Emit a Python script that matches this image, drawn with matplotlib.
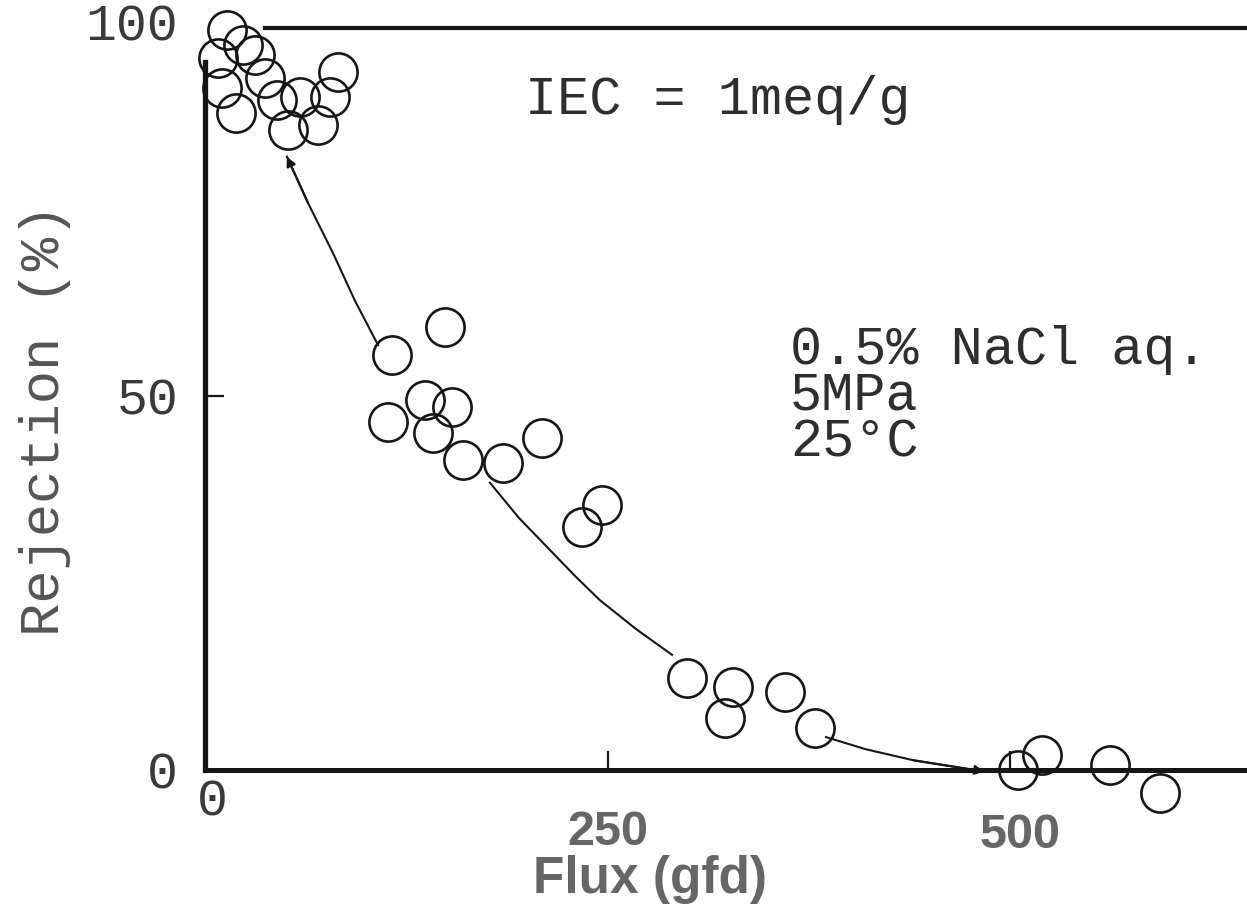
import matplotlib
matplotlib.use("Agg")
import matplotlib.pyplot as plt
import matplotlib.transforms as mtransforms

# ---- data ----
flux = [13.7, 23.6, 8.1, 31.1, 37.3, 10.6, 19.3, 44.7, 51.6, 59.0, 70.2, 77.6, 82.6,
        149.0, 116.1, 136.6, 153.4, 113.7, 141.6, 160.2, 185.1, 209.3, 246.6, 234.2,
        299.4, 328.0, 323.0, 360.2, 378.9,
        505.0, 519.9, 562.1, 593.2]
rejection = [98.9, 96.9, 95.2, 95.6, 92.5, 91.2, 87.8, 89.6, 85.6, 90.0, 86.2, 90.0, 93.3,
             59.2, 55.5, 49.5, 48.5, 46.5, 45.1, 41.4, 41.0, 44.4, 35.4, 32.5,
             12.3, 11.1, 7.0, 10.4, 5.6,
             0.0, 2.0, 0.7, -3.1]

# hand-drawn trend curve, three visible pieces
curve_a_x = [107.5, 93.0, 79.5, 64.0, 50.9]
curve_a_y = [56.8, 62.8, 69.1, 75.8, 82.0]
curve_b_x = [177.0, 195.0, 214.3, 230.0, 245.3, 268.0, 290.1]
curve_b_y = [38.4, 33.7, 29.4, 25.9, 22.7, 18.8, 15.4]
curve_c_x = [385.7, 410.0, 440.0, 484.0]
curve_c_y = [4.4, 2.8, 1.3, -0.2]

xticks = [250, 500]
yticks = [50]
xtick_labels = ["0", "250", "500"]
xtick_label_pos = [0, 250, 500]
ytick_labels = ["0", "50", "100"]
ytick_label_pos = [0, 50, 100]

conditions = ["0.5% NaCl aq.", "5MPa", "25°C"]

ink = "#161616"
mono = "Liberation Mono"

W, H = 1247, 914
fig = plt.figure(figsize=(W / 100, H / 100), dpi=100)
ax = fig.add_axes([205 / W, (H - 770) / H, 1042 / W, (770 - 28) / H])
ax.set_xlim(0, 1042 / 1.61)
ax.set_ylim(0, (770 - 28) / 7.48)

# spines
for s in ("left", "bottom", "top"):
    ax.spines[s].set_color(ink)
ax.spines["left"].set_linewidth(3.8)
ax.spines["bottom"].set_linewidth(3.6)
ax.spines["top"].set_linewidth(3.0)
ax.spines["right"].set_visible(False)
ax.spines["left"].set_bounds(0, 94.7)
ax.spines["top"].set_bounds(37.3, 1042 / 1.61)

ax.set_xticks(xticks)
ax.set_yticks(yticks)
ax.tick_params(axis="both", direction="in", length=14, width=1.6, color=ink,
               labelbottom=False, labelleft=False)

# data markers
ax.plot(flux, rejection, linestyle="none", marker="o", markersize=27.5,
        markerfacecolor="none", markeredgecolor=ink, markeredgewidth=1.9,
        clip_on=False, zorder=3)

# trend curve pieces
ax.plot(curve_a_x, curve_a_y, color=ink, lw=1.5)
ax.annotate("", xy=(curve_a_x[-1], curve_a_y[-1]),
            xytext=(curve_a_x[-2], curve_a_y[-2]),
            arrowprops=dict(arrowstyle="-|>", color=ink, lw=1.5,
                            mutation_scale=14, shrinkA=0, shrinkB=0))
ax.plot(curve_b_x, curve_b_y, color=ink, lw=1.5)
ax.plot(curve_c_x, curve_c_y, color=ink, lw=1.5, clip_on=False)
ax.annotate("", xy=(curve_c_x[-1], curve_c_y[-1]),
            xytext=(curve_c_x[-2], curve_c_y[-2]),
            arrowprops=dict(arrowstyle="-|>", color=ink, lw=1.5,
                            mutation_scale=14, shrinkA=0, shrinkB=0),
            annotation_clip=False)

# annotations
txt = dict(family=mono, fontsize=38.5, color="#2e2e2e", va="center", ha="left")
ax.text(198.8, 89.6, "IEC = 1meq/g", **txt)
ax.text(363.4, 50.0, "\n".join(conditions), linespacing=0.9, **txt)

# y tick labels (nudged a few pixels down like the scan)
ylab_tr = ax.get_yaxis_transform() + mtransforms.ScaledTranslation(0, -5 / 100, fig.dpi_scale_trans)
for v, lab in zip(ytick_label_pos, ytick_labels):
    ax.text(-27 / 1042, v, lab, transform=ylab_tr,
            family=mono, fontsize=37, color="#3a3a3a", ha="right", va="center")

# x tick labels: "0" in the scanned font, the rest in bold grey sans
ax.text(xtick_label_pos[0] + 4.5, -4.3, xtick_labels[0], family=mono, fontsize=37,
        color="#3a3a3a", ha="center", va="center")
ax.text(xtick_label_pos[1], -8.3, xtick_labels[1], family="Liberation Sans",
        fontweight="bold", fontsize=35, color="#666666", ha="center", va="center")
ax.text(xtick_label_pos[2] + 6, -8.7, xtick_labels[2], family="Liberation Sans",
        fontweight="bold", fontsize=35, color="#666666", ha="center", va="center")

# axis labels
fig.text(650 / W, 1 - 880 / H, "Flux (gfd)", family="Liberation Sans",
         fontweight="bold", fontsize=37, color="#666666", ha="center", va="center")
fig.text(45 / W, 1 - 420 / H, "Rejection (%)", family=mono, fontsize=40,
         color="#555555", rotation=90, ha="center", va="center")

fig.savefig("out.png", dpi=100)
